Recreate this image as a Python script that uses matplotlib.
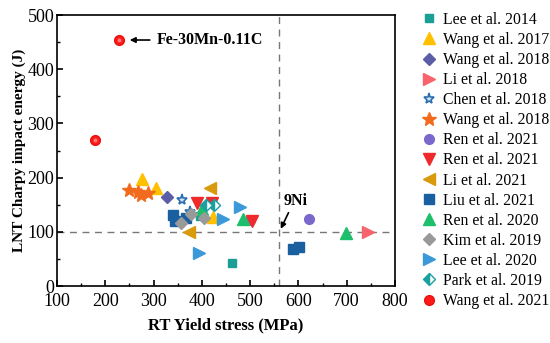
import matplotlib.pyplot as plt
from matplotlib.ticker import MultipleLocator

plt.rcParams['font.family'] = ['Liberation Serif', 'DejaVu Serif']

# data: (yield stress MPa, LNT Charpy energy J)
lee2014_x = [396, 462]
lee2014_y = [130, 42]
wang2017_x = [276, 305, 423]
wang2017_y = [197, 181, 127]
wang2018a_x = [328]
wang2018a_y = [164]
li2018_x = [744]
li2018_y = [100]
chen2018_x = [359, 375]
chen2018_y = [159, 137]
wang2018b_x = [249, 268, 274, 288]
wang2018b_y = [177, 173, 168, 172]
ren2021a_x = [622, 500]
ren2021a_y = [124, 122]
ren2021b_x = [390, 421, 504]
ren2021b_y = [153, 153, 120]
li2021_x = [417, 373]
li2021_y = [181, 100]
liu2021_x = [340, 344, 367, 589, 601]
liu2021_y = [131, 120, 125, 68, 72]
ren2020_x = [400, 485, 698]
ren2020_y = [142, 124, 98]
kim2019_x = [357, 377, 404]
kim2019_y = [116, 133, 125]
lee2020_x = [444, 479, 394]
lee2020_y = [124, 146, 61]
park2019_x = [408, 425]
park2019_y = [150, 150]
wang2021_x = [179, 228]
wang2021_y = [269, 454]

fig = plt.figure(figsize=(5.5, 3.43), dpi=100)
ax = fig.add_axes([0.1036, 0.166, 0.6145, 0.790])

ax.axvline(560, color='#777777', ls=(0, (5, 4)), lw=1, zorder=1)
ax.axhline(100, color='#777777', ls=(0, (5, 4)), lw=1, zorder=1)

ms = 7
ax.plot(lee2014_x, lee2014_y, 's', color='#1A9E96', ms=ms - 1, ls='none', label='Lee et al. 2014')
ax.plot(wang2017_x, wang2017_y, '^', color='#FFC000', ms=ms + 1, ls='none', label='Wang et al. 2017')
ax.plot(wang2018a_x, wang2018a_y, 'D', color='#5B5EA6', ms=ms - 1, ls='none', label='Wang et al. 2018')
ax.plot(li2018_x, li2018_y, '>', color='#F8646B', ms=ms + 1, ls='none', label='Li et al. 2018')
ax.plot(chen2018_x, chen2018_y, '*', mfc='#d6e4f2', mec='#2C6FB0', mew=1.2, ms=ms + 1, ls='none', label='Chen et al. 2018')
ax.plot(wang2018b_x, wang2018b_y, '*', color='#F26B1D', ms=ms + 3, ls='none', label='Wang et al. 2018')
ax.plot(ren2021a_x, ren2021a_y, 'o', color='#7B68CC', ms=ms, ls='none', label='Ren et al. 2021')
ax.plot(ren2021b_x, ren2021b_y, 'v', color='#EE2A2A', ms=ms + 1, ls='none', label='Ren et al. 2021')
ax.plot(li2021_x, li2021_y, '<', color='#D99A0B', ms=ms + 1, ls='none', label='Li et al. 2021')
ax.plot(liu2021_x, liu2021_y, 's', color='#1A5FA0', ms=ms, ls='none', label='Liu et al. 2021')
ax.plot(ren2020_x, ren2020_y, '^', color='#1DBF6C', ms=ms + 1, ls='none', label='Ren et al. 2020')
ax.plot(kim2019_x, kim2019_y, 'D', color='#999999', ms=ms - 1, ls='none', label='Kim et al. 2019')
ax.plot(lee2020_x, lee2020_y, '>', color='#3A9AD9', ms=ms + 1, ls='none', label='Lee et al. 2020')
ax.plot(park2019_x, park2019_y, 'D', color='#1AA0A0', fillstyle='left', mfcalt='white', ms=ms - 1, ls='none', label='Park et al. 2019')
ax.plot(wang2021_x, wang2021_y, 'o', mfc='#FF1A1A', mec='#E81010', ms=ms, ls='none', label='Wang et al. 2021')
# highlight on the spheres
ax.plot(wang2021_x, wang2021_y, 'o', color='#FF7A7A', ms=1.8, ls='none', zorder=3)

ax.annotate('', xy=(245, 454), xytext=(298, 454),
            arrowprops=dict(arrowstyle='-|>', color='black', lw=1.2, mutation_scale=8))
ax.text(306, 454, 'Fe-30Mn-0.11C', fontsize=11.5, fontweight='bold', va='center')
ax.annotate('', xy=(561, 101), xytext=(582, 140),
            arrowprops=dict(arrowstyle='-|>', color='black', lw=1.2, mutation_scale=8))
ax.text(570, 157, '9Ni', fontsize=11.5, fontweight='bold', va='center')

ax.set_xlim(100, 800)
ax.set_ylim(0, 500)
ax.xaxis.set_major_locator(MultipleLocator(100))
ax.xaxis.set_minor_locator(MultipleLocator(50))
ax.yaxis.set_major_locator(MultipleLocator(100))
ax.yaxis.set_minor_locator(MultipleLocator(50))
ax.tick_params(which='both', direction='in', top=False, right=False, labelsize=13)
ax.tick_params(axis='x', pad=5)
ax.tick_params(axis='y', pad=2)
ax.tick_params(which='major', length=4, width=1.2)
ax.tick_params(which='minor', length=2.5, width=1)
for s in ax.spines.values():
    s.set_linewidth(1.2)

ax.set_xlabel('RT Yield stress (MPa)', fontsize=12, fontweight='bold', labelpad=5)
ax.set_ylabel('LNT Charpy impact energy (J)', fontsize=11, fontweight='bold', labelpad=1)

ax.legend(loc='upper left', bbox_to_anchor=(1.055, 1.035), frameon=False, fontsize=11.3,
          handletextpad=0.3, labelspacing=0.26, borderaxespad=0, handlelength=1.2)

fig.savefig('out.png', dpi=100)
